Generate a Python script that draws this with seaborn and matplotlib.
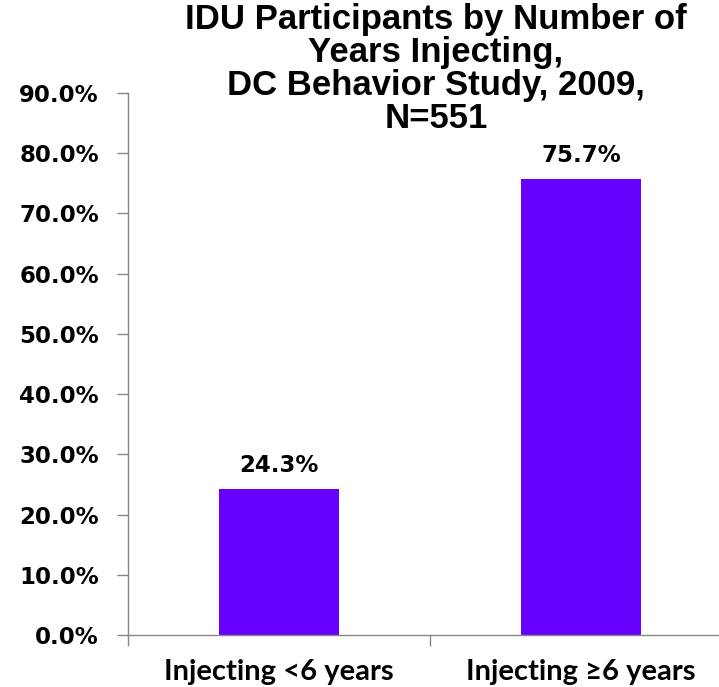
import matplotlib
matplotlib.use("Agg")
import matplotlib.pyplot as plt
import seaborn as sns
from matplotlib.ticker import FuncFormatter, FixedLocator

categories = ["Injecting <6 years", "Injecting \u22656 years"]
values = [24.3, 75.7]
labels = ["24.3%", "75.7%"]
title = "IDU Participants by Number of\nYears Injecting,\nDC Behavior Study, 2009,\nN=551"

sns.set_style("white")
plt.rcParams["text.color"] = "black"
plt.rcParams["xtick.color"] = "black"
plt.rcParams["ytick.color"] = "black"
W, H = 719, 687
fig = plt.figure(figsize=(W / 100, H / 100), dpi=100)
left, right, top, bottom = 128, 732, 93, 635
ax = fig.add_axes([left / W, 1 - bottom / H, (right - left) / W, (bottom - top) / H])

sns.barplot(x=categories, y=values, color="#6600FF", width=0.4, ax=ax,
            saturation=1, edgecolor="none")

ax.set_ylim(0, 90)
ax.set_xlim(-0.5, 1.5)
ax.set_yticks(range(0, 91, 10))
ax.yaxis.set_major_formatter(FuncFormatter(lambda v, p: f"{v:.1f}%"))
ax.set_xlabel("")
ax.set_ylabel("")

for s in ["top", "right"]:
    ax.spines[s].set_visible(False)
for s in ["left", "bottom"]:
    ax.spines[s].set_color("#868686")
    ax.spines[s].set_linewidth(1.0)

ax.tick_params(axis="y", which="major", direction="out", length=8, width=1,
               color="#868686", labelcolor="black", pad=13, left=True)
ax.tick_params(axis="x", which="major", length=0, pad=17, labelcolor="black")
ax.xaxis.set_minor_locator(FixedLocator([-0.5, 0.5, 1.5]))
ax.tick_params(axis="x", which="minor", direction="out", length=8, width=1,
               color="#868686", bottom=True)

for t in ax.get_yticklabels():
    t.set_fontfamily("DejaVu Sans")
    t.set_fontweight("bold")
    t.set_fontsize(16.5)
    t.set_color("black")
for t in ax.get_xticklabels():
    t.set_fontfamily("Lato")
    t.set_fontweight("bold")
    t.set_fontsize(21)
    t.set_color("black")

for i, (v, lab) in enumerate(zip(values, labels)):
    ax.annotate(lab, (i, v), xytext=(0, 8.5), textcoords="offset points",
                ha="center", va="bottom", fontfamily="DejaVu Sans",
                fontweight="bold", fontsize=16.5, color="black")

fig.text(436 / W, 1 - 3 / H, title, ha="center", va="top",
         fontfamily="Liberation Sans", fontweight="bold", fontsize=25,
         linespacing=1.0, color="black")

fig.savefig("out.png", dpi=100)
